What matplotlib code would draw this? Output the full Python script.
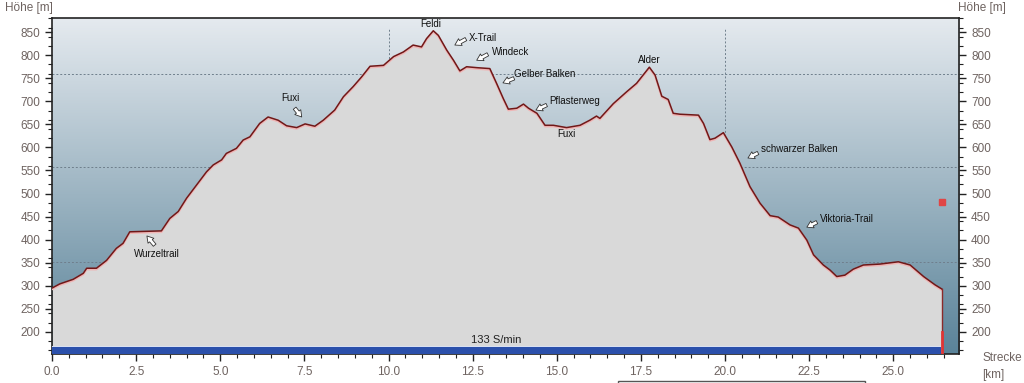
import matplotlib
matplotlib.use("Agg")
import matplotlib.pyplot as plt
import numpy as np
from matplotlib.colors import LinearSegmentedColormap
from matplotlib.ticker import MultipleLocator, FormatStrFormatter
from matplotlib.patches import Rectangle

plt.rcParams['font.family'] = ['Liberation Sans', 'DejaVu Sans']

# elevation profile (km, m)
dist_km = [0.0, 0.23, 0.63, 0.93, 1.03, 1.32, 1.62, 1.91, 2.11, 2.31, 3.25, 3.5, 3.75, 4.0,
           4.29, 4.59, 4.79, 5.04, 5.18, 5.48, 5.68, 5.88, 6.17, 6.42, 6.72, 6.97, 7.27,
           7.52, 7.81, 8.06, 8.4, 8.66, 8.95, 9.2, 9.45, 9.85, 10.15, 10.44, 10.73, 10.98,
           11.13, 11.33, 11.48, 11.73, 11.93, 12.12, 12.32, 12.62, 13.01, 13.21, 13.41,
           13.56, 13.81, 14.01, 14.16, 14.41, 14.65, 14.9, 15.29, 15.69, 15.98, 16.18,
           16.28, 16.68, 17.08, 17.37, 17.75, 17.92, 18.12, 18.31, 18.46, 18.66, 19.21,
           19.36, 19.55, 19.7, 19.95, 20.2, 20.44, 20.74, 21.04, 21.34, 21.58, 21.93,
           22.18, 22.43, 22.63, 22.92, 23.12, 23.32, 23.56, 23.81, 24.11, 24.6, 25.15,
           25.5, 25.9, 26.24, 26.44]
elev_m = [295, 304, 314, 327, 338, 338, 355, 381, 392, 417, 419, 446, 461, 490,
          518, 547, 562, 573, 587, 598, 616, 623, 652, 666, 659, 647, 643,
          651, 646, 659, 681, 710, 732, 753, 776, 778, 797, 807, 822, 818,
          836, 853, 843, 811, 789, 766, 775, 773, 771, 739, 706,
          683, 685, 694, 685, 674, 648, 648, 643, 648, 659, 668,
          663, 695, 721, 739, 774, 757, 711, 704, 674, 672, 670,
          652, 617, 620, 632, 601, 566, 515, 479, 452, 449, 432,
          425, 399, 367, 345, 334, 320, 323, 336, 345, 347, 352,
          345, 320, 302, 293]

track_end_km = 26.46
cadence_label = "133 S/min"
marker_elev = 482

# waypoint labels
wp_names = ["Fuxi", "Wurzeltrail", "Feldi", "X-Trail", "Windeck", "Gelber Balken",
            "Pflasterweg", "Fuxi", "Alder", "schwarzer Balken", "Viktoria-Trail"]
wp_km = [7.07, 3.11, 11.26, 12.38, 13.07, 13.74, 14.77, 15.28, 17.76, 21.08, 22.83]
wp_m = [707, 369, 867, 838, 806, 759, 701, 629, 789, 597, 445]
wp_ha = ["center", "center", "center", "left", "left", "left", "left", "center",
         "center", "left", "left"]

# hollow arrows: (tail km, tail m, head km, head m)
arrows = [(7.21, 685, 7.42, 666), (3.05, 388, 2.82, 408), (12.30, 835, 11.97, 822),
          (12.95, 802, 12.62, 789), (13.73, 750, 13.40, 740), (14.70, 692, 14.38, 681),
          (20.98, 588, 20.68, 577), (22.73, 438, 22.43, 427)]

ymin, ymax = 152, 880
xmax = 26.96

fig = plt.figure(figsize=(10.24, 3.83), dpi=100)
ax = fig.add_axes([0.0508, 0.0757, 0.886, 0.8765])

# background gradient
cmap = LinearSegmentedColormap.from_list("bg", ["#5a8399", "#e5eaef"])
grad = np.linspace(0, 1, 256).reshape(-1, 1)
ax.imshow(grad, cmap=cmap, origin="lower", aspect="auto",
          extent=[0, xmax, ymin, ymax], zorder=0)

# grid
for gy in [352, 557, 760]:
    ax.axhline(gy, color="#6f7f8c", lw=0.7, ls=(0, (2, 2)), zorder=1)
for gx in [10, 20]:
    ax.axvline(gx, ymax=0.97, color="#6f7f8c", lw=0.7, ls=(0, (2, 2)), zorder=1)

ax.fill_between(dist_km, elev_m, ymin, color="#d9d9d9", zorder=2, lw=0)
ax.plot(dist_km, np.array(elev_m) - 2.5, color="#f0b4b4", lw=1.5, zorder=3)
ax.plot(dist_km, elev_m, color="#701818", lw=1.1, zorder=4)

# end of track
ax.plot([track_end_km, track_end_km], [elev_m[-1], ymin], color="#8a2a2a", lw=1.0, zorder=4)
ax.plot([track_end_km, track_end_km], [200, ymin], color="#e03535", lw=2.0, zorder=4)
ax.plot([track_end_km], [marker_elev], marker="s", ms=5, color="#e04545", zorder=5)

# cadence bar
ax.fill_between([0, 26.41], ymin, 167, color="#2b50ab", zorder=5, lw=0)
ax.fill_between([0, 26.41], 167, 170, color="#d8e0f2", zorder=5, lw=0)
ax.text(13.2, 170.5, cadence_label, fontsize=8, color="#222222",
        ha="center", va="bottom", zorder=6)

for name, x, y, ha in zip(wp_names, wp_km, wp_m, wp_ha):
    ax.text(x, y, name, fontsize=7, color="#111111", ha=ha, va="center", zorder=6)
for tx, ty, hx, hy in arrows:
    ax.annotate("", xy=(hx, hy), xytext=(tx, ty), zorder=6,
                arrowprops=dict(arrowstyle="simple,head_length=0.45,head_width=0.55,tail_width=0.25",
                                fc="white", ec="#333333", lw=0.6, shrinkA=0, shrinkB=0))

ax.set_xlim(0, xmax)
ax.set_ylim(ymin, ymax)
ax.xaxis.set_major_locator(MultipleLocator(2.5))
ax.xaxis.set_minor_locator(MultipleLocator(0.5))
ax.xaxis.set_major_formatter(FormatStrFormatter("%.1f"))
ax.yaxis.set_minor_locator(MultipleLocator(20))
ax.set_yticks(np.arange(200, 851, 50))
ax.tick_params(axis="both", which="major", labelsize=8.5, labelcolor="#6e6360",
               color="#222222", length=5, width=1, direction="out")
ax.tick_params(axis="both", which="minor", color="#222222", length=3, width=0.8,
               direction="out")
ax.tick_params(axis="y", which="both", left=True, right=True, labelleft=True, labelright=True)
for s in ax.spines.values():
    s.set_color("#222222")
    s.set_linewidth(1.2)

fig.text(0.005, 1 - 8 / 383, "Höhe [m]", fontsize=8.5, color="#6e6360", ha="left", va="center")
fig.text(0.936, 1 - 8 / 383, "Höhe [m]", fontsize=8.5, color="#6e6360", ha="left", va="center")
fig.text(0.959, 1 - 358 / 383, "Strecke", fontsize=8.5, color="#6e6360", ha="left", va="center")
fig.text(0.959, 1 - 375 / 383, "[km]", fontsize=8.5, color="#6e6360", ha="left", va="center")

fig.patches.append(Rectangle((618 / 1024, -0.05), (865 - 618) / 1024, 0.05 + 2 / 383,
                             transform=fig.transFigure, fill=False, ec="#555555", lw=1))

fig.savefig("out.png", dpi=100)
